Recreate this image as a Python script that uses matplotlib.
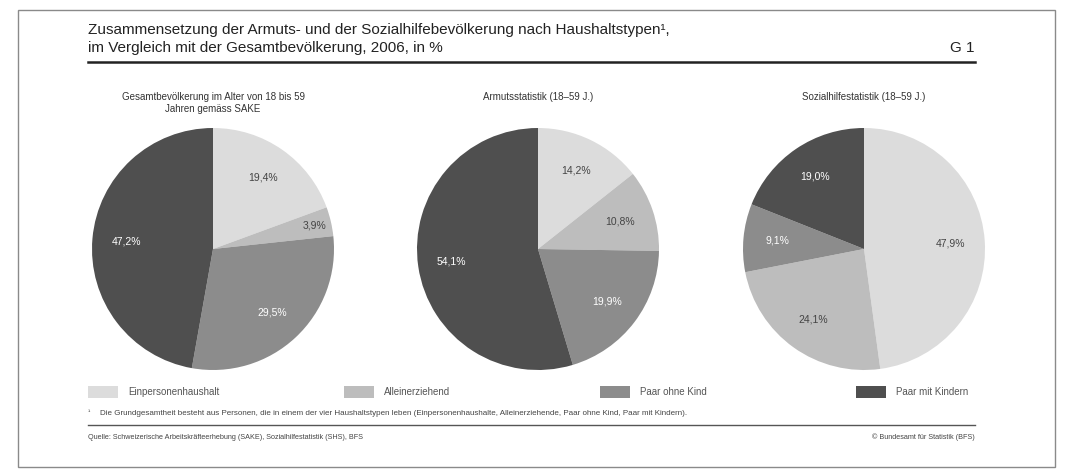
import matplotlib.pyplot as plt
from matplotlib.patches import Rectangle
import numpy as np

plt.rcParams['font.family'] = ['Liberation Sans Narrow', 'Liberation Sans', 'DejaVu Sans']

# data
categories = ["Einpersonenhaushalt", "Alleinerziehend", "Paar ohne Kind", "Paar mit Kindern"]
gesamt = [19.4, 3.9, 29.5, 47.2]
armut = [14.2, 10.8, 19.9, 54.1]
sozialhilfe = [47.9, 24.1, 9.1, 19.0]
pie_titles = ["Gesamtbevölkerung im Alter von 18 bis 59\nJahren gemäss SAKE",
              "Armutsstatistik (18–59 J.)",
              "Sozialhilfestatistik (18–59 J.)"]

colors = ["#dcdcdc", "#bdbdbd", "#8c8c8c", "#4f4f4f"]
text_colors = ["#444444", "#444444", "#ffffff", "#ffffff"]

W, H = 1073, 473
fig = plt.figure(figsize=(W / 100, H / 100), dpi=100)
fig.patch.set_facecolor("white")

def px(x, y):
    return x / W, 1 - y / H

# frame
fig.add_artist(Rectangle(px(18, 467), (1055 - 18) / W, (467 - 10) / H, transform=fig.transFigure,
                         fill=False, ec="#8a8a8a", lw=1.0))

# title
fig.text(*px(88, 30), "Zusammensetzung der Armuts- und der Sozialhilfebevölkerung nach Haushaltstypen¹,",
         fontsize=11, color="#222222", va="center", ha="left")
fig.text(*px(88, 48), "im Vergleich mit der Gesamtbevölkerung, 2006, in %",
         fontsize=11, color="#222222", va="center", ha="left")
fig.text(*px(975, 48), "G 1", fontsize=11, color="#222222", va="center", ha="right")
fig.add_artist(plt.Line2D([88 / W, 975 / W], [1 - 62 / H] * 2, color="#222222", lw=1.8,
                          transform=fig.transFigure))

centers = [213, 538, 864]
radius = 121
for cx, vals, title in zip(centers, [gesamt, armut, sozialhilfe], pie_titles):
    ax = fig.add_axes([(cx - radius) / W, 1 - (249 + radius) / H, 2 * radius / W, 2 * radius / H])
    wedges, _ = ax.pie(vals, colors=colors, startangle=90, counterclock=False,
                       wedgeprops=dict(lw=0))
    ax.set_xlim(-1, 1)
    ax.set_ylim(-1, 1)
    ax.set_aspect("equal")
    for w, v, tc in zip(wedges, vals, text_colors):
        ang = np.deg2rad((w.theta1 + w.theta2) / 2)
        d = 0.72 if v > 6 else 0.86
        ax.text(d * np.cos(ang), d * np.sin(ang), f"{v:.1f}%".replace(".", ","),
                ha="center", va="center", fontsize=7.5, color=tc)
    fig.text(*px(cx, 92), title, ha="center", va="top", fontsize=7, color="#333333",
             linespacing=1.3)

# legend
for i, (cat, c) in enumerate(zip(categories, colors)):
    x0 = 88 + i * 256
    fig.add_artist(Rectangle(px(x0, 398), 30 / W, 12 / H, transform=fig.transFigure,
                             fc=c, ec="none"))
    fig.text(*px(x0 + 40, 392), cat, fontsize=7, color="#555555", va="center", ha="left")

fig.text(*px(88, 412), "¹", fontsize=5, color="#444444", va="center", ha="left")
fig.text(*px(100, 413), "Die Grundgesamtheit besteht aus Personen, die in einem der vier Haushaltstypen leben "
         "(Einpersonenhaushalte, Alleinerziehende, Paar ohne Kind, Paar mit Kindern).",
         fontsize=5.8, color="#444444", va="center", ha="left")
fig.add_artist(plt.Line2D([88 / W, 975 / W], [1 - 425 / H] * 2, color="#555555", lw=1.0,
                          transform=fig.transFigure))
fig.text(*px(88, 437), "Quelle: Schweizerische Arbeitskräfteerhebung (SAKE), Sozialhilfestatistik (SHS), BFS",
         fontsize=5.2, color="#444444", va="center", ha="left")
fig.text(*px(975, 437), "© Bundesamt für Statistik (BFS)",
         fontsize=5.2, color="#444444", va="center", ha="right")

fig.savefig("out.png", dpi=100, facecolor="white")
